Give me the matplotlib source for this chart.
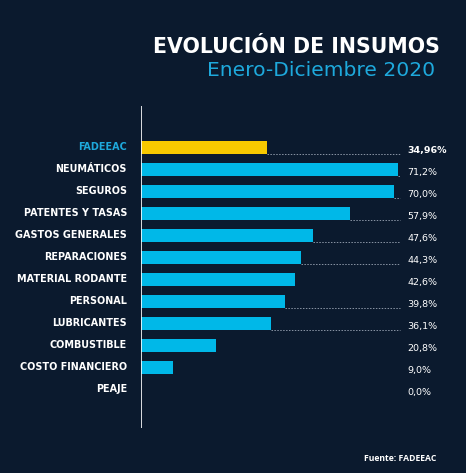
import matplotlib
matplotlib.use('Agg')
import matplotlib.pyplot as plt

# ── datos ──
categorias = ['FADEEAC', 'NEUMÁTICOS', 'SEGUROS', 'PATENTES Y TASAS', 'GASTOS GENERALES',
              'REPARACIONES', 'MATERIAL RODANTE', 'PERSONAL', 'LUBRICANTES',
              'COMBUSTIBLE', 'COSTO FINANCIERO', 'PEAJE']
valores = [34.96, 71.2, 70.0, 57.9, 47.6, 44.3, 42.6, 39.8, 36.1, 20.8, 9.0, 0.0]
etiquetas = ['34,96%', '71,2%', '70,0%', '57,9%', '47,6%', '44,3%', '42,6%',
             '39,8%', '36,1%', '20,8%', '9,0%', '0,0%']
con_puntos = [True, True, True, True, True, True, False, True, True, False, False, False]

BG = '#0b1a2e'
CYAN = '#00b8e8'
YELLOW = '#f7c900'
LABEL_CYAN = '#1ea9dc'
DJ = ['DejaVu Sans']
OS = ['Open Sans', 'DejaVu Sans']

W, H = 466, 473
fig = plt.figure(figsize=(W / 100, H / 100), dpi=100, facecolor=BG)

# eje: x=141px es el cero, escala ~3.61 px por punto
x0, x1 = 141, 410
y_top, y_bot = 106, 428
ax = fig.add_axes([x0 / W, 1 - y_bot / H, (x1 - x0) / W, (y_bot - y_top) / H])
ax.set_facecolor(BG)
px_per = 3.61
ax.set_xlim(0, (x1 - x0) / px_per)
row0, step = 147.5, 22.0
ax.set_ylim((y_bot - row0) / step, (y_top - row0) / step)

n = len(categorias)
colores = [YELLOW] + [CYAN] * (n - 1)
alto = 0.6
ax.barh(range(n), valores, height=alto, color=colores, zorder=2)

x_fin_puntos = (400 - x0) / px_per
x_texto = (407 - x0) / px_per
for i in range(n):
    if con_puntos[i]:
        ax.plot([valores[i], x_fin_puntos], [i + alto / 2, i + alto / 2],
                color='#8a95a5', lw=0.7, ls=(0, (1.5, 1.5)), zorder=1)
    ax.text(x_texto, i + 0.12, etiquetas[i], ha='left', va='center',
            color='white', fontsize=6.8, family=DJ,
            fontweight='bold' if i == 0 else 'normal', clip_on=False)
    ax.text(-14 / px_per, i, categorias[i], ha='right', va='center',
            color=LABEL_CYAN if i == 0 else 'white', fontsize=6.9,
            family=DJ, fontweight='bold', clip_on=False)

ax.axvline(0, color='white', lw=1.2, zorder=3)
for s in ax.spines.values():
    s.set_visible(False)
ax.set_xticks([])
ax.set_yticks([])

# títulos
fig.text(440 / W, 1 - 47 / H, 'EVOLUCIÓN DE INSUMOS', ha='right', va='center',
         color='white', fontsize=14.8, fontweight='bold', family=DJ)
fig.text(435 / W, 1 - 70 / H, 'Enero-Diciembre 2020', ha='right', va='center',
         color=LABEL_CYAN, fontsize=14.6, fontweight='normal', family=DJ)
fig.text(436 / W, 1 - 458 / H, 'Fuente: FADEEAC', ha='right', va='center',
         color='white', fontsize=6.2, fontweight='bold', family=OS)

fig.savefig('out.png', dpi=100, facecolor=BG)
